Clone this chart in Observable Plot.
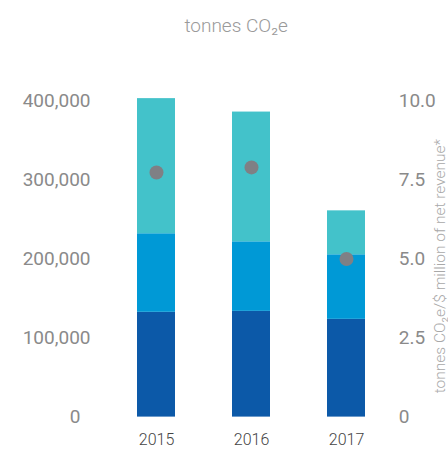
<!DOCTYPE html>
<html>
<head>
<meta charset="utf-8">
<script src="https://cdn.jsdelivr.net/npm/d3@7"></script>
<script src="https://cdn.jsdelivr.net/npm/@observablehq/plot@0.6"></script>
<style>
  html, body { margin: 0; padding: 0; background: #fff; }
  svg { font-family: Roboto, "Open Sans", sans-serif; }
</style>
</head>
<body>
<div id="chart"></div>
<script>
const years = ["2015", "2016", "2017"];
const seriesNames = ["Scope 1", "Scope 2", "Scope 3"];
const scope1 = [132600, 133800, 123700];
const scope2 = [99400, 88000, 81700];
const scope3 = [171000, 164200, 55600];
const intensity = [7.74, 7.9, 5.0];
const leftTicks = [0, 100000, 200000, 300000, 400000];
const rightTickLabels = ["0", "2.5", "5.0", "7.5", "10.0"];
const colors = ["#0c59a8", "#0099d6", "#43c2ca"];
const ratio = 400000 / 10; // right axis 10.0 aligns with 400,000

const seriesValues = [scope1, scope2, scope3];
const rows = [];
years.forEach((y, i) => {
  seriesNames.forEach((s, j) => rows.push({year: y, series: s, value: seriesValues[j][i]}));
});
const dots = years.map((y, i) => ({year: y, intensity: intensity[i]}));

const chart = Plot.plot({
  width: 448,
  height: 451,
  marginTop: 100.5,
  marginBottom: 34.4,
  marginLeft: 100,
  marginRight: 46.8,
  style: {fontFamily: "Roboto, 'Open Sans', sans-serif", background: "#fff"},
  x: {type: "band", domain: years, paddingInner: 0.6, paddingOuter: 0.377, label: null},
  y: {domain: [0, 400000], label: null},
  color: {domain: seriesNames, range: colors},
  marks: [
    Plot.barY(rows, {x: "year", y: "value", fill: "series", order: seriesNames}),
    Plot.dot(dots, {x: "year", y: d => d.intensity * ratio, r: 7, fill: "#7f8085", stroke: "none"}),
    Plot.axisY({ticks: leftTicks.filter(d => d > 0), tickSize: 0, tickPadding: 10,
      tickFormat: d => d3.format(",")(d), fontSize: 19, fill: "#8a8a8a"}),
    Plot.axisY({ticks: [0], tickSize: 0, tickPadding: 20,
      tickFormat: d => "0", fontSize: 19, fill: "#8a8a8a"}),
    Plot.axisY({anchor: "right", ticks: leftTicks, tickSize: 0, tickPadding: 0, dx: -3,
      tickFormat: d => rightTickLabels[leftTicks.indexOf(d)], fontSize: 19, fill: "#8a8a8a", label: null}),
    Plot.axisX({tickSize: 0, tickPadding: 17, fontSize: 16, fontWeight: 300, fill: "#444", label: null}),
    Plot.text(["tonnes CO₂e"], {frameAnchor: "top", dx: -15, dy: -83, fontSize: 19, fontWeight: 300, fill: "#9a9a9a"}),
    Plot.text(["tonnes CO₂e/$ million of net revenue*"], {frameAnchor: "right", textAnchor: "middle", lineAnchor: "middle", rotate: -90, dx: 38, dy: 7, fontSize: 15.5, fontWeight: 300, fill: "#a8a8a8"})
  ]
});
document.getElementById("chart").appendChild(chart);
</script>
</body>
</html>
